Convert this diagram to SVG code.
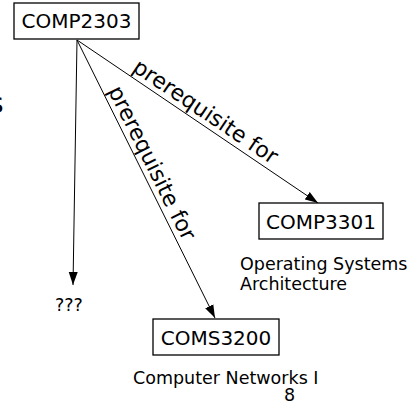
<svg xmlns="http://www.w3.org/2000/svg" width="411" height="403" viewBox="0 0 411 403">
<style>
text{font-family:"DejaVu Sans","Liberation Sans",sans-serif;fill:#000}
.box{fill:#fff;stroke:#000;stroke-width:1.3}
.nt{font-size:20px;text-anchor:middle}
.lbl{font-size:17.5px}
.el{font-size:22px}
.edge{stroke:#000;stroke-width:1;fill:none;marker-end:url(#ah)}
</style>
<defs>
<marker id="ah" markerUnits="userSpaceOnUse" markerWidth="14" markerHeight="10" refX="13" refY="5" orient="auto">
<path d="M0,0.5 L13,5 L0,9.5 z" fill="#000"/>
</marker>
</defs>
<text x="-11" y="113" style="font-size:28px">s</text>
<g id="connectors">
<line class="edge" x1="77" y1="40" x2="73" y2="285"/>
<line class="edge" x1="77" y1="40" x2="215" y2="318"/>
<line class="edge" x1="77" y1="40" x2="318" y2="203"/>
<g transform="translate(77,40) rotate(63.5)"><text class="el" x="59" y="-5">prerequisite for</text></g>
<g transform="translate(77,40) rotate(33.9)"><text class="el" x="62" y="-5">prerequisite for</text></g>
</g>
<g id="comp2303">
<rect class="box" x="14" y="3" width="125" height="36"/>
<text class="nt" x="76.5" y="28">COMP2303</text>
</g>
<g id="comp3301">
<rect class="box" x="259" y="203" width="124" height="36"/>
<text class="nt" x="321" y="229">COMP3301</text>
<text class="lbl" x="240" y="270">Operating Systems</text>
<text class="lbl" x="240" y="290">Architecture</text>
</g>
<g id="coms3200">
<rect class="box" x="153" y="319" width="126" height="36"/>
<text class="nt" x="216" y="345">COMS3200</text>
<text class="lbl" x="133" y="384">Computer Networks I</text>
</g>
<g id="unknown">
<text class="lbl" x="55" y="311">???</text>
</g>
<text class="lbl" x="284" y="401">8</text>
</svg>
